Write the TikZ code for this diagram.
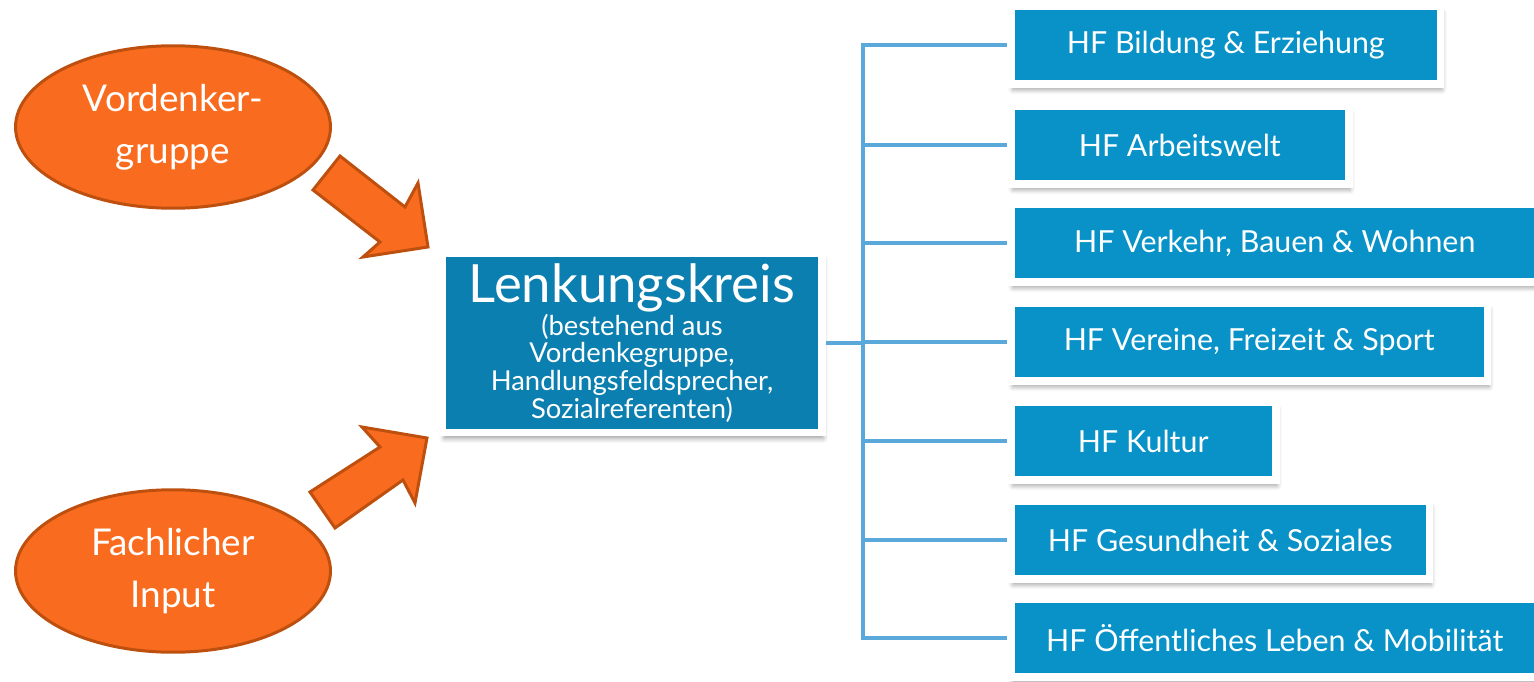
\documentclass[tikz,border=0pt]{standalone}
\usepackage{fontspec}
\setmainfont{Lato}
\usetikzlibrary{shapes.geometric,shadows.blur,positioning}
\definecolor{hforange}{RGB}{249,107,30}
\definecolor{hfbraun}{RGB}{190,80,15}
\definecolor{lkblau}{RGB}{11,127,175}
\definecolor{hfblau}{RGB}{8,146,199}
\definecolor{linkblau}{RGB}{91,168,219}
\begin{document}
\begin{tikzpicture}[x=0.02cm, y=-0.02cm,
  gruppe/.style={ellipse, fill=hforange, draw=hfbraun, line width=1.7pt,
    minimum width=6.3cm, minimum height=3.25cm, inner sep=0pt, text=white,
    align=center, font=\fontsize{21}{29.6}\selectfont},
  pfeil/.style={fill=hforange, draw=hfbraun, line width=1.7pt, line join=miter},
  kasten/.style={rectangle, draw=white, line width=4.3pt, text=white, inner sep=0pt,
    blur shadow={shadow xshift=1pt, shadow yshift=-3.5pt, shadow blur radius=2.5pt, shadow opacity=35}},
  feld/.style={kasten, fill=hfblau, minimum height=1.55cm, anchor=west,
    font=\fontsize{17.3}{20}\selectfont},
  link/.style={draw=linkblau, line width=2.3pt}]
\useasboundingbox (0,0) rectangle (1534,682);

% linke Seite
\node[gruppe] (vordenker) at (173,127) {Vordenker-\\gruppe};
\node[gruppe] (input) at (173,571) {Fachlicher\\Input};
\draw[pfeil] (340,156) -- (405,207) -- (418,183) -- (428,247) -- (363,257) -- (380,242) -- (313,190) -- cycle;
\draw[pfeil] (310,492) -- (380,447) -- (362,427) -- (427,438) -- (415,503) -- (403,480) -- (335,528) -- cycle;

% Lenkungskreis
\node[kasten, fill=lkblau, minimum width=7.6cm, minimum height=3.58cm, align=center,
  font=\fontsize{15.6}{15.7}\selectfont] (lenkung) at (632,343)
  {{\fontsize{30}{32}\selectfont Lenkungskreis}\\[0pt]
   (bestehend aus\\
   Vordenkegruppe,\\
   Handlungsfeldsprecher,\\
   Sozialreferenten)};

% Handlungsfelder
\node[feld, minimum width=8.6cm] (hf1) at (1007,45) {HF Bildung \& Erziehung};
\node[feld, minimum width=6.76cm] (hf2) at (1007,145) {HF Arbeitswelt};
\node[feld, minimum width=10.56cm] (hf3) at (1007,243) {HF Verkehr, Bauen \& Wohnen};
\node[feld, minimum width=9.54cm] (hf4) at (1007,342) {HF Vereine, Freizeit \& Sport};
\node[feld, minimum width=5.3cm] (hf5) at (1007,441) {HF Kultur};
\node[feld, minimum width=8.38cm] (hf6) at (1007,540) {HF Gesundheit \& Soziales};
\node[feld, minimum width=10.56cm] (hf7) at (1007,638) {HF Öffentliches Leben \& Mobilität};

% Verbindungen
\coordinate (bus) at (863,343);
\draw[link] (lenkung.east) -- (bus);
\draw[link] (hf1.west) -- (hf1.west -| bus) -- (hf7.west -| bus) -- (hf7.west);
\foreach \n in {2,...,6}
  \draw[link] (hf\n.west -| bus) -- (hf\n.west);
\end{tikzpicture}
\end{document}
